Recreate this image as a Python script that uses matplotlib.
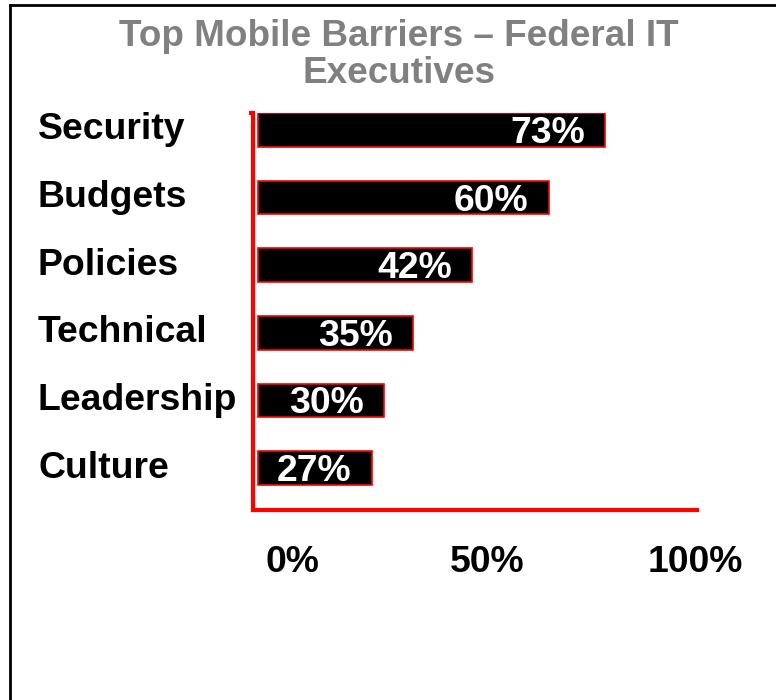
import matplotlib
matplotlib.use("Agg")
import matplotlib.pyplot as plt
from matplotlib.lines import Line2D
from matplotlib.transforms import blended_transform_factory

plt.rcParams['font.family'] = ['Liberation Sans', 'DejaVu Sans']
plt.rcParams['font.weight'] = 'bold'

# data
categories = ["Security", "Budgets", "Policies", "Technical", "Leadership", "Culture"]
pct = [73, 60, 42, 35, 30, 27]
# drawn bar lengths, on the axis scale (0..100 across the red baseline)
bar_len = [78.2, 65.5, 48.2, 34.9, 28.4, 25.7]
tick_labels = ["0%", "50%", "100%"]

FS = 26.9
fig = plt.figure(figsize=(7.76, 7.0), dpi=100)
ax = fig.add_axes([253/776, 190/700, 444/776, 397/700])

y = list(range(len(categories)))
ax.barh(y, bar_len, height=0.5, left=0, color='black', edgecolor='red', linewidth=1.2)
ax.set_xlim(-1.1, 98.9)
ax.set_ylim(5.62, -0.25)

for yi, v, p in zip(y, bar_len, pct):
    ax.annotate(f"{p}%", (v, yi), xytext=(-14.5, -2.5), textcoords='offset points',
                ha='right', va='center', color='white', fontsize=FS, fontweight='bold',
                annotation_clip=False, clip_on=False)

# category names, left aligned at the figure edge
tr = blended_transform_factory(fig.transFigure, ax.transData)
for yi, c in zip(y, categories):
    ax.text(38/776, yi, c, transform=tr, ha='left', va='center',
            fontsize=FS, fontweight='bold', color='black')

for s in ['top', 'right']:
    ax.spines[s].set_visible(False)
for s in ['left', 'bottom']:
    ax.spines[s].set_color('red')
    ax.spines[s].set_linewidth(3)
    ax.spines[s].set_capstyle('projecting')

ax.set_yticks([-0.25])
ax.set_yticklabels([])
ax.tick_params(axis='y', color='red', length=3, width=3, direction='out')

ax.set_xticks([7.7, 51.6, 98.6])
ax.set_xticklabels(tick_labels, fontsize=FS, fontweight='bold')
ax.tick_params(axis='x', length=0, pad=25)

fig.text(399/776, 1 - 55/700, "Top Mobile Barriers – Federal IT\nExecutives",
         ha='center', va='center', fontsize=26.6, fontweight='bold',
         color='#808080', linespacing=1.08)

# frame lines (top and left only)
fig.add_artist(Line2D([10/776, 10/776], [0, 1 - 5/700], transform=fig.transFigure,
                      color='black', linewidth=2, solid_capstyle='projecting'))
fig.add_artist(Line2D([10/776, 1], [1 - 5/700, 1 - 5/700], transform=fig.transFigure,
                      color='black', linewidth=2, solid_capstyle='projecting'))

fig.savefig("out.png", dpi=100)
